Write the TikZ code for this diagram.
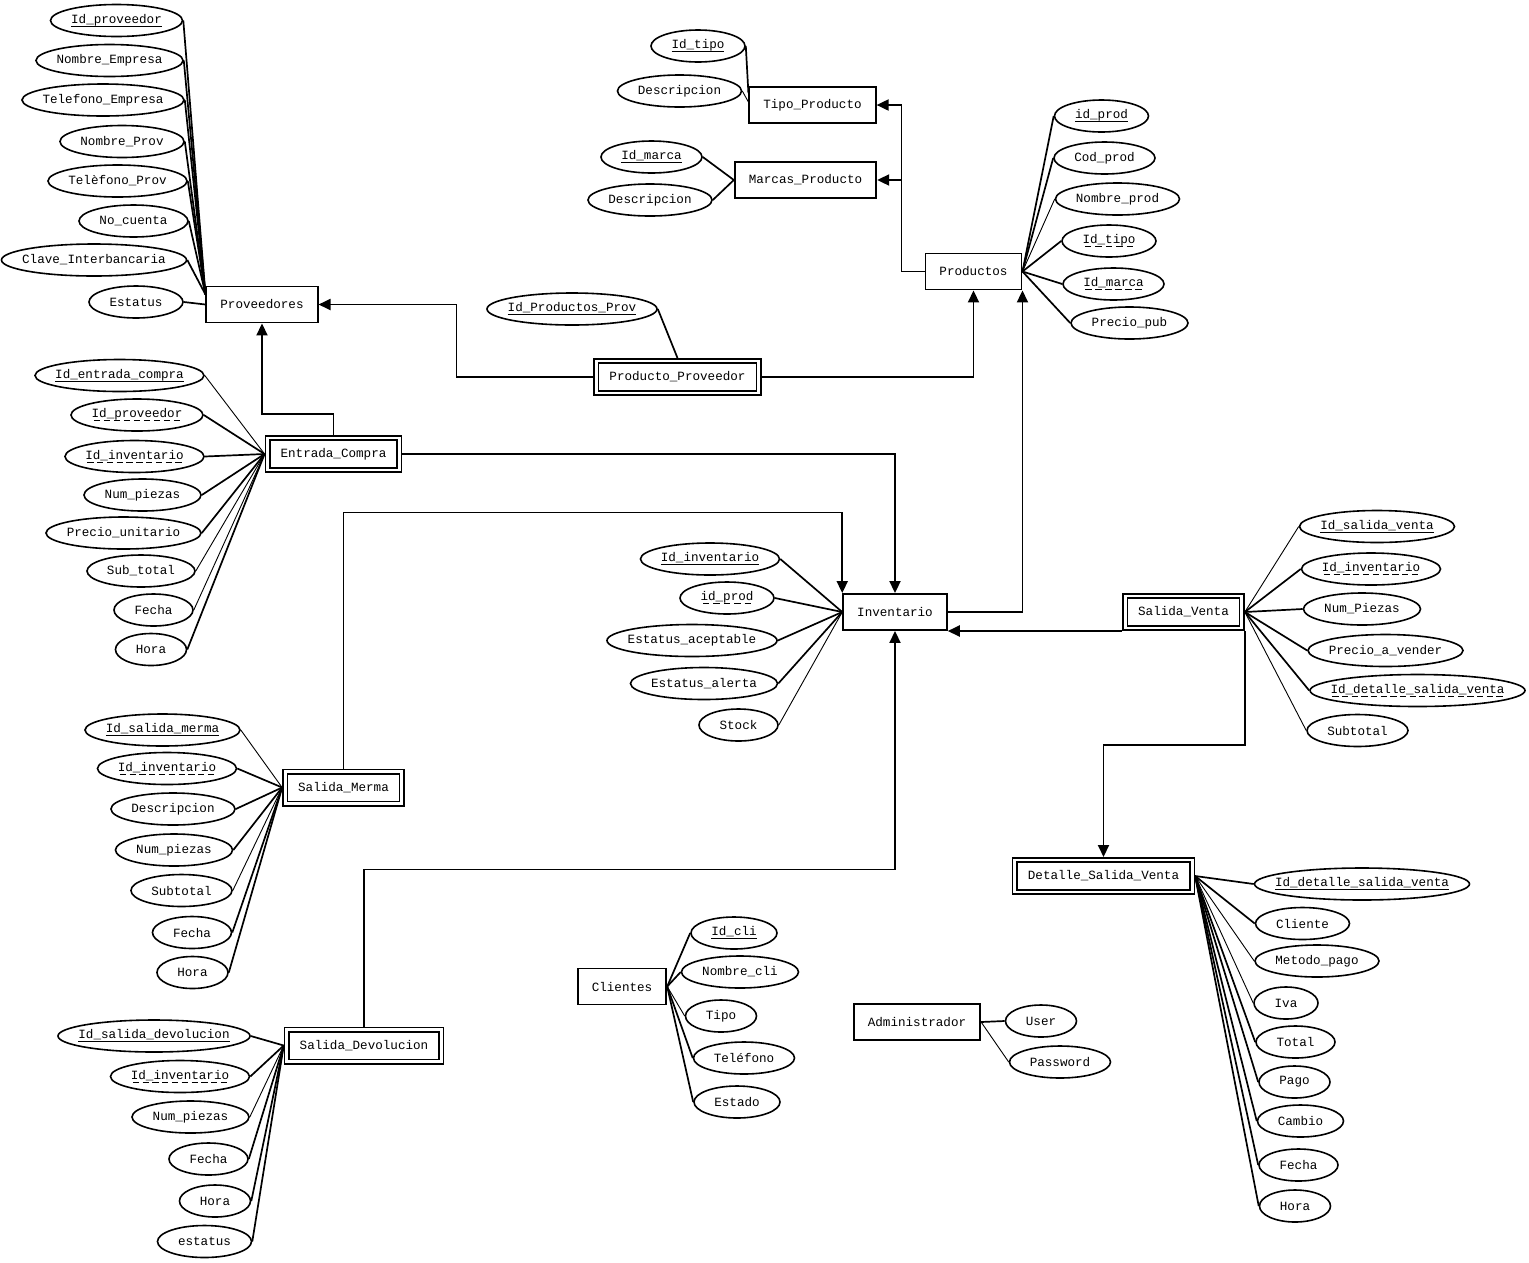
\documentclass[tikz,border=0pt]{standalone}
\usepackage{fontspec}
\setmonofont{Liberation Mono}
\usepackage{tikz}
\usetikzlibrary{shapes.geometric, arrows.meta}
\newsavebox{\keybox}
\newcommand{\erfont}{\ttfamily\fontsize{12.6}{15}\selectfont}
\newcommand{\keyrule}{\vrule height -2.2pt depth 3.5pt}
\newcommand{\pkey}[1]{\sbox{\keybox}{#1}\leavevmode\rlap{\keyrule width \wd\keybox}\usebox{\keybox}}
\newcommand{\fkey}[1]{\sbox{\keybox}{#1}\leavevmode\rlap{\hbox to \wd\keybox{\xleaders\hbox to .74em{\hss\keyrule width .5em\hss}\hfil}}\usebox{\keybox}}
\tikzset{
  entitynode/.style={draw, line width=1.9pt, inner xsep=14pt, minimum height=36pt, font=\erfont},
  weaknode/.style={draw, line width=1.6pt, double, double distance=2.8pt, inner xsep=13pt, minimum height=32pt, outer sep=3pt, font=\erfont},
  attrnode/.style={ellipse, draw, line width=1.6pt, inner xsep=-20pt, inner ysep=0pt, minimum width=#1, minimum height=32pt, font=\erfont},
  attrline/.style={line width=1.7pt},
  attrthin/.style={line width=0.9pt},
  relline/.style={-{Triangle[length=12pt, width=11pt]}, line width=1.9pt}
}

\begin{document}
\begin{tikzpicture}[x=1pt, y=-1pt]
  \useasboundingbox (0,0) rectangle (1529,1262);

  % Entidades
  \node[entitynode] at (262,304.5) (prov) {Proveedores};
  \node[entitynode] at (812.5,105) (tipo) {Tipo\_Producto};
  \node[entitynode] at (805.5,180) (marcas) {Marcas\_Producto};
  \node[entitynode] at (973.5,271.5) (prod) {Productos};
  \node[weaknode] at (677.5,377) (pp) {Producto\_Proveedor};
  \node[weaknode] at (333.5,454) (ec) {Entrada\_Compra};
  \node[entitynode] at (895,612) (inv) {Inventario};
  \node[weaknode] at (1183.5,612) (sv) {Salida\_Venta};
  \node[weaknode] at (343.5,787.5) (merma) {Salida\_Merma};
  \node[weaknode] at (364,1045.5) (devol) {Salida\_Devolucion};
  \node[entitynode] at (622,986.5) (cli) {Clientes};
  \node[entitynode] at (917,1022) (adm) {Administrador};
  \node[weaknode] at (1103.5,876) (dsv) {Detalle\_Salida\_Venta};

  % Proveedores
  \node[attrnode=132pt] at (116.5,20.5) (provid) {\pkey{Id\_proveedor}};
  \node[attrnode=147pt] at (109.5,60.5) (provnom) {Nombre\_Empresa};
  \node[attrnode=162pt] at (103,100) (provtelemp) {Telefono\_Empresa};
  \node[attrnode=124pt] at (122,141.5) (provnomp) {Nombre\_Prov};
  \node[attrnode=139pt] at (117.5,181) (provtel) {Telèfono\_Prov};
  \node[attrnode=109pt] at (133.5,221) (provcta) {No\_cuenta};
  \node[attrnode=185pt] at (94,260) (provclabe) {Clave\_Interbancaria};
  \node[attrnode=94pt] at (136,302) (provest) {Estatus};
  \draw[attrline] (provid.east) -- ([yshift=10pt]prov.west);
  \draw[attrline] (provnom.east) -- ([yshift=10pt]prov.west);
  \draw[attrline] (provtelemp.east) -- ([yshift=10pt]prov.west);
  \draw[attrline] (provnomp.east) -- ([yshift=10pt]prov.west);
  \draw[attrline] (provtel.east) -- ([yshift=10pt]prov.west);
  \draw[attrline] (provcta.east) -- ([yshift=10pt]prov.west);
  \draw[attrline] (provclabe.east) -- ([yshift=10pt]prov.west);
  \draw[attrline] (provest.east) -- (prov.west);

  % Tipo y marcas
  \node[attrnode=94pt] at (698,46) (tipoid) {\pkey{Id\_tipo}};
  \node[attrnode=124pt] at (679.5,91) (tipodesc) {Descripcion};
  \draw[attrline] (tipoid.east) -- ([yshift=12pt]tipo.west);
  \draw[attrthin] (tipodesc.east) -- ([yshift=3pt]tipo.west);
  \node[attrnode=101pt] at (651.5,157) (marcaid) {\pkey{Id\_marca}};
  \node[attrnode=124pt] at (650,200) (marcadesc) {Descripcion};
  \draw[attrline] (marcaid.east) -- (marcas.west);
  \draw[attrline] (marcadesc.east) -- (marcas.west);

  % Productos
  \node[attrnode=94pt] at (1101.5,116) (prodid) {\pkey{id\_prod}};
  \node[attrnode=101pt] at (1104.5,158) (prodcod) {Cod\_prod};
  \node[attrnode=124pt] at (1117.5,199) (prodnom) {Nombre\_prod};
  \node[attrnode=94pt] at (1109,241) (prodtipo) {\fkey{Id\_tipo}};
  \node[attrnode=101pt] at (1113.5,284) (prodmarca) {\fkey{Id\_marca}};
  \node[attrnode=117pt] at (1129.5,323) (prodprecio) {Precio\_pub};
  \draw[attrline] (prodid.west) -- (prod.east);
  \draw[attrline] (prodcod.west) -- (prod.east);
  \draw[attrthin] (prodnom.west) -- (prod.east);
  \draw[attrline] (prodtipo.west) -- (prod.east);
  \draw[attrline] (prodmarca.west) -- (prod.east);
  \draw[attrline] (prodprecio.west) -- (prod.east);

  % Producto_Proveedor
  \node[attrnode=170pt] at (572,309) (ppid) {\pkey{Id\_Productos\_Prov}};
  \draw[attrline] (ppid.east) -- (pp.north);

  % Entrada_Compra
  \node[attrnode=169pt] at (119.5,375.5) (ecid) {\pkey{Id\_entrada\_compra}};
  \node[attrnode=132pt] at (137,415) (ecprov) {\fkey{Id\_proveedor}};
  \node[attrnode=139pt] at (134.5,456.5) (ecinv) {\fkey{Id\_inventario}};
  \node[attrnode=117pt] at (142.5,495) (ecnum) {Num\_piezas};
  \node[attrnode=155pt] at (123.5,533) (ecprecio) {Precio\_unitario};
  \node[attrnode=108pt] at (141,571) (ecsub) {Sub\_total};
  \node[attrnode=79pt] at (153.5,610) (ecfecha) {Fecha};
  \node[attrnode=71pt] at (151,649.5) (echora) {Hora};
  \draw[attrthin] (ecid.east) -- (ec.west);
  \draw[attrline] (ecprov.east) -- (ec.west);
  \draw[attrline] (ecinv.east) -- (ec.west);
  \draw[attrline] (ecnum.east) -- (ec.west);
  \draw[attrline] (ecprecio.east) -- (ec.west);
  \draw[attrthin] (ecsub.east) -- (ec.west);
  \draw[attrthin] (ecfecha.east) -- (ec.west);
  \draw[attrline] (echora.east) -- (ec.west);

  % Inventario
  \node[attrnode=139pt] at (710,559) (invid) {\pkey{Id\_inventario}};
  \node[attrnode=94pt] at (727,598) (invprod) {\fkey{id\_prod}};
  \node[attrnode=170pt] at (692,640.5) (invacep) {Estatus\_aceptable};
  \node[attrnode=147pt] at (704,683.5) (invalerta) {Estatus\_alerta};
  \node[attrnode=79pt] at (738.5,725) (invstock) {Stock};
  \draw[attrline] (invid.east) -- (inv.west);
  \draw[attrline] (invprod.east) -- (inv.west);
  \draw[attrline] (invacep.east) -- (inv.west);
  \draw[attrline] (invalerta.east) -- (inv.west);
  \draw[attrthin] (invstock.east) -- (inv.west);

  % Salida_Venta
  \node[attrnode=155pt] at (1377,526.5) (svid) {\pkey{Id\_salida\_venta}};
  \node[attrnode=139pt] at (1371,569) (svinv) {\fkey{Id\_inventario}};
  \node[attrnode=117pt] at (1362,609) (svnum) {Num\_Piezas};
  \node[attrnode=155pt] at (1385.5,650.5) (svprecio) {Precio\_a\_vender};
  \node[attrnode=215pt] at (1417.5,690.5) (svdet) {\fkey{Id\_detalle\_salida\_venta}};
  \node[attrnode=101pt] at (1357.5,730.5) (svsub) {Subtotal};
  \draw[attrthin] (svid.west) -- (sv.east);
  \draw[attrline] (svinv.west) -- (sv.east);
  \draw[attrline] (svnum.west) -- (sv.east);
  \draw[attrline] (svprecio.west) -- (sv.east);
  \draw[attrline] (svdet.west) -- (sv.east);
  \draw[attrthin] (svsub.west) -- (sv.east);

  % Salida_Merma
  \node[attrnode=155pt] at (162.5,730) (smid) {\pkey{Id\_salida\_merma}};
  \node[attrnode=139pt] at (167,768.5) (sminv) {\fkey{Id\_inventario}};
  \node[attrnode=124pt] at (173,809) (smdesc) {Descripcion};
  \node[attrnode=117pt] at (174,850) (smnum) {Num\_piezas};
  \node[attrnode=101pt] at (181.5,890.5) (smsub) {Subtotal};
  \node[attrnode=79pt] at (192,932.5) (smfecha) {Fecha};
  \node[attrnode=71pt] at (192.5,972.5) (smhora) {Hora};
  \draw[attrthin] (smid.east) -- (merma.west);
  \draw[attrline] (sminv.east) -- (merma.west);
  \draw[attrline] (smdesc.east) -- (merma.west);
  \draw[attrline] (smnum.east) -- (merma.west);
  \draw[attrthin] (smsub.east) -- (merma.west);
  \draw[attrline] (smfecha.east) -- (merma.west);
  \draw[attrline] (smhora.east) -- (merma.west);

  % Salida_Devolucion
  \node[attrnode=192pt] at (154,1036) (sdid) {\pkey{Id\_salida\_devolucion}};
  \node[attrnode=139pt] at (180,1076.5) (sdinv) {\fkey{Id\_inventario}};
  \node[attrnode=117pt] at (190.5,1117) (sdnum) {Num\_piezas};
  \node[attrnode=79pt] at (208.5,1159) (sdfecha) {Fecha};
  \node[attrnode=71pt] at (215,1201) (sdhora) {Hora};
  \node[attrnode=94pt] at (204.5,1241.5) (sdest) {estatus};
  \draw[attrline] (sdid.east) -- (devol.west);
  \draw[attrline] (sdinv.east) -- (devol.west);
  \draw[attrthin] (sdnum.east) -- (devol.west);
  \draw[attrline] (sdfecha.east) -- (devol.west);
  \draw[attrline] (sdhora.east) -- (devol.west);
  \draw[attrline] (sdest.east) -- (devol.west);

  % Clientes y administrador
  \node[attrnode=86pt] at (734,933) (cliid) {\pkey{Id\_cli}};
  \node[attrnode=117pt] at (740,972) (clinom) {Nombre\_cli};
  \node[attrnode=71pt] at (721,1016) (clitipo) {Tipo};
  \node[attrnode=101pt] at (744,1058) (clitel) {Teléfono};
  \node[attrnode=86pt] at (737,1102) (cliedo) {Estado};
  \draw[attrline] (cliid.west) -- (cli.east);
  \draw[attrline] (clinom.west) -- (cli.east);
  \draw[attrthin] (clitipo.west) -- (cli.east);
  \draw[attrline] (clitel.west) -- (cli.east);
  \draw[attrline] (cliedo.west) -- (cli.east);
  \node[attrnode=71pt] at (1041,1021) (admuser) {User};
  \node[attrnode=101pt] at (1060,1062) (admpass) {Password};
  \draw[attrline] (adm.east) -- (admuser.west);
  \draw[attrthin] (adm.east) -- (admpass.west);

  % Detalle_Salida_Venta
  \node[attrnode=215pt] at (1362,884) (dvid) {\pkey{Id\_detalle\_salida\_venta}};
  \node[attrnode=94pt] at (1302.5,923.5) (dvcli) {Cliente};
  \node[attrnode=124pt] at (1317,961) (dvmet) {Metodo\_pago};
  \node[attrnode=64pt] at (1286,1003) (dviva) {Iva};
  \node[attrnode=79pt] at (1295.5,1042) (dvtotal) {Total};
  \node[attrnode=71pt] at (1294.5,1082) (dvpago) {Pago};
  \node[attrnode=86pt] at (1300.5,1121) (dvcambio) {Cambio};
  \node[attrnode=79pt] at (1298.5,1165) (dvfecha) {Fecha};
  \node[attrnode=71pt] at (1295,1206) (dvhora) {Hora};
  \draw[attrline] (dsv.east) -- (dvid.west);
  \draw[attrline] (dsv.east) -- (dvcli.west);
  \draw[attrthin] (dsv.east) -- (dvmet.west);
  \draw[attrthin] (dsv.east) -- (dviva.west);
  \draw[attrline] (dsv.east) -- (dvtotal.west);
  \draw[attrline] (dsv.east) -- (dvpago.west);
  \draw[attrline] (dsv.east) -- (dvcambio.west);
  \draw[attrline] (dsv.east) -- (dvfecha.west);
  \draw[attrline] (dsv.east) -- (dvhora.west);

  % Relaciones
  \draw[relline] (pp.west) -- ++(-137,0) |- (prov.east);
  \draw[relline] (pp.east) -| (prod.south);
  \draw[relline] (prod.west) -- ++(-23,0) |- (tipo.east);
  \draw[relline] (prod.west) -- ++(-23,0) |- (marcas.east);
  \draw[relline] (ec.north) -- ++(0,-21) -| (prov.south);
  \draw[relline] (ec.east) -| (inv.north);
  \draw[relline] (merma.north) -- ++(0,-256) -| (inv.north west);
  \draw[relline] (devol.north) -- ++(0,-157) -| (inv.south);
  \draw[relline] (inv.east) -| (prod.south east);
  \draw[relline] (sv.south west) -- (inv.south east |- sv.south west);
  \draw[relline] (sv.south east) -- ++(0,114) -| (dsv.north);
\end{tikzpicture}
\end{document}
